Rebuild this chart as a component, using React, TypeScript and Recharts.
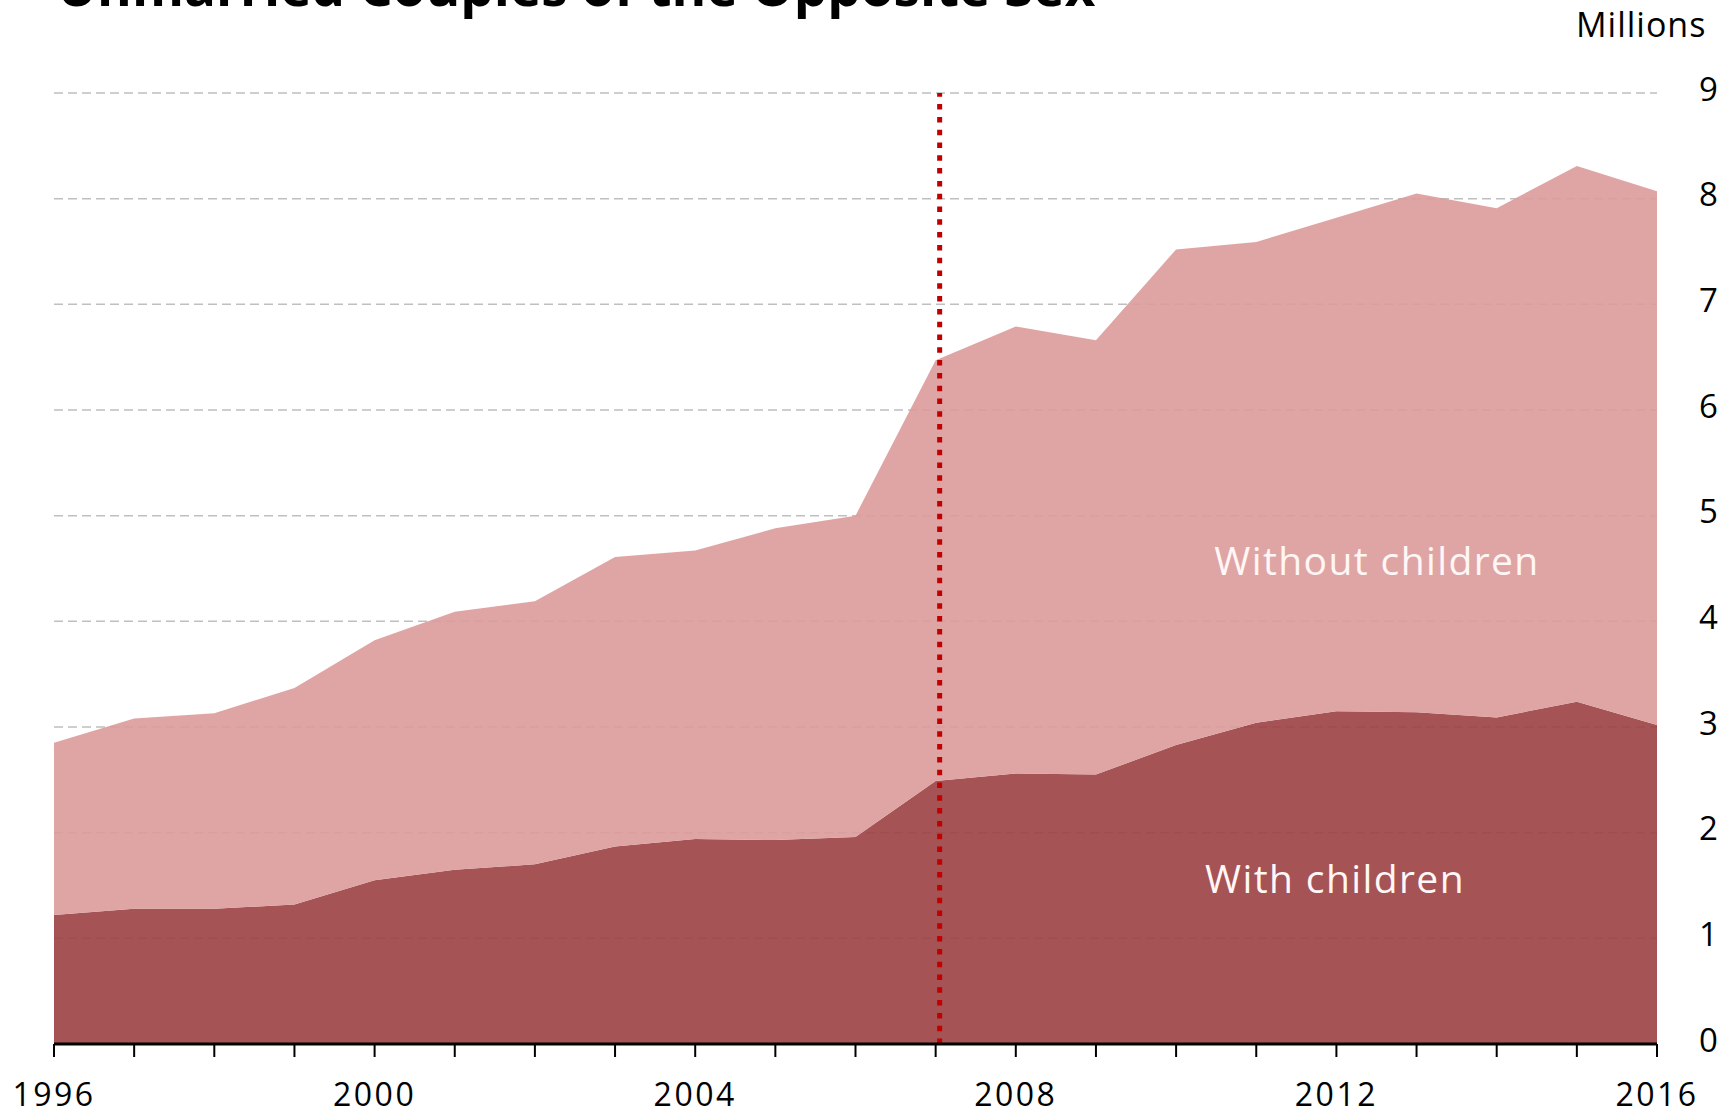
import { AreaChart, Area, XAxis, YAxis, CartesianGrid, ReferenceLine } from 'recharts';

const years = [1996, 1997, 1998, 1999, 2000, 2001, 2002, 2003, 2004, 2005, 2006, 2007, 2008, 2009, 2010, 2011, 2012, 2013, 2014, 2015, 2016];
// millions of couples
const withChildren = [1.22, 1.28, 1.28, 1.32, 1.55, 1.65, 1.70, 1.87, 1.94, 1.93, 1.96, 2.49, 2.56, 2.55, 2.83, 3.04, 3.15, 3.14, 3.09, 3.24, 3.02];
const withoutChildren = [1.63, 1.80, 1.85, 2.05, 2.27, 2.44, 2.49, 2.74, 2.73, 2.95, 3.04, 3.98, 4.23, 4.11, 4.69, 4.55, 4.67, 4.91, 4.82, 5.07, 5.05];
const yTicks = [0, 1, 2, 3, 4, 5, 6, 7, 8, 9];
const labelledYears = [1996, 2000, 2004, 2008, 2012, 2016];
const markerYear = 2007.05;

const title = 'Unmarried Couples of the Opposite Sex';

const data = years.map((year, i) => ({
    year,
    withChildren: withChildren[i],
    withoutChildren: withoutChildren[i],
}));

const font = '"Open Sans", "Noto Sans", sans-serif';

// right-hand value labels sit a little above their gridline
function ValueTick(props: any) {
    const { x, y, payload } = props;
    return (
        <text x={x + 2} y={y - 4} dy="0.355em" fontSize={33} fill="#000" fontFamily={font} textAnchor="start">
            {payload.value}
        </text>
    );
}

export default function App() {
    return (
        <div style={{ position: 'absolute', left: 0, top: 0, width: 1731, height: 1114, background: '#fff', fontFamily: font }}>
            <AreaChart width={1731} height={1114} data={data} margin={{ top: 93, right: 0, bottom: 0, left: 54 }}>
                <CartesianGrid vertical={false} stroke="#BFBFBF" strokeWidth={1.5} strokeDasharray="9 5" />
                <XAxis
                    dataKey="year"
                    type="number"
                    domain={[1996, 2016]}
                    ticks={years}
                    interval={0}
                    height={70}
                    tickSize={13}
                    tickMargin={26}
                    axisLine={{ stroke: '#000', strokeWidth: 3 }}
                    tickLine={{ stroke: '#000', strokeWidth: 2 }}
                    tick={{ fontSize: 32, fill: '#000', fontFamily: font, letterSpacing: 2.5 }}
                    tickFormatter={(v) => (labelledYears.includes(v) ? String(v) : '')}
                />
                <YAxis
                    orientation="right"
                    width={74}
                    domain={[0, 9]}
                    ticks={yTicks}
                    interval={0}
                    axisLine={false}
                    tickLine={false}
                    tickSize={0}
                    tickMargin={40}
                    tick={<ValueTick />}
                />
                <Area
                    type="linear"
                    dataKey="withChildren"
                    stackId="1"
                    stroke="none"
                    fill="#9B4041"
                    fillOpacity={0.9}
                    isAnimationActive={false}
                />
                <Area
                    type="linear"
                    dataKey="withoutChildren"
                    stackId="1"
                    stroke="none"
                    fill="#DB9B9A"
                    fillOpacity={0.9}
                    isAnimationActive={false}
                />
                <ReferenceLine x={markerYear} stroke="#C00000" strokeWidth={5} strokeDasharray="5.5 7.3" />
            </AreaChart>
            <svg width={1731} height={1114} style={{ position: 'absolute', left: 0, top: 0, pointerEvents: 'none' }}>
                <text x={57} y={6} fontSize={53} fontWeight={700} fill="#000" fontFamily={font}>{title}</text>
                <text x={1576} y={37} fontSize={34} fill="#000" fontFamily={font} letterSpacing={1}>Millions</text>
                <text x={1377} y={575} fontSize={39} fill="#FFF6F6" fontFamily={font} textAnchor="middle" letterSpacing={1.4}>Without children</text>
                <text x={1335} y={893} fontSize={39} fill="#FFF6F6" fontFamily={font} textAnchor="middle" letterSpacing={1.4}>With children</text>
            </svg>
        </div>
    );
}
